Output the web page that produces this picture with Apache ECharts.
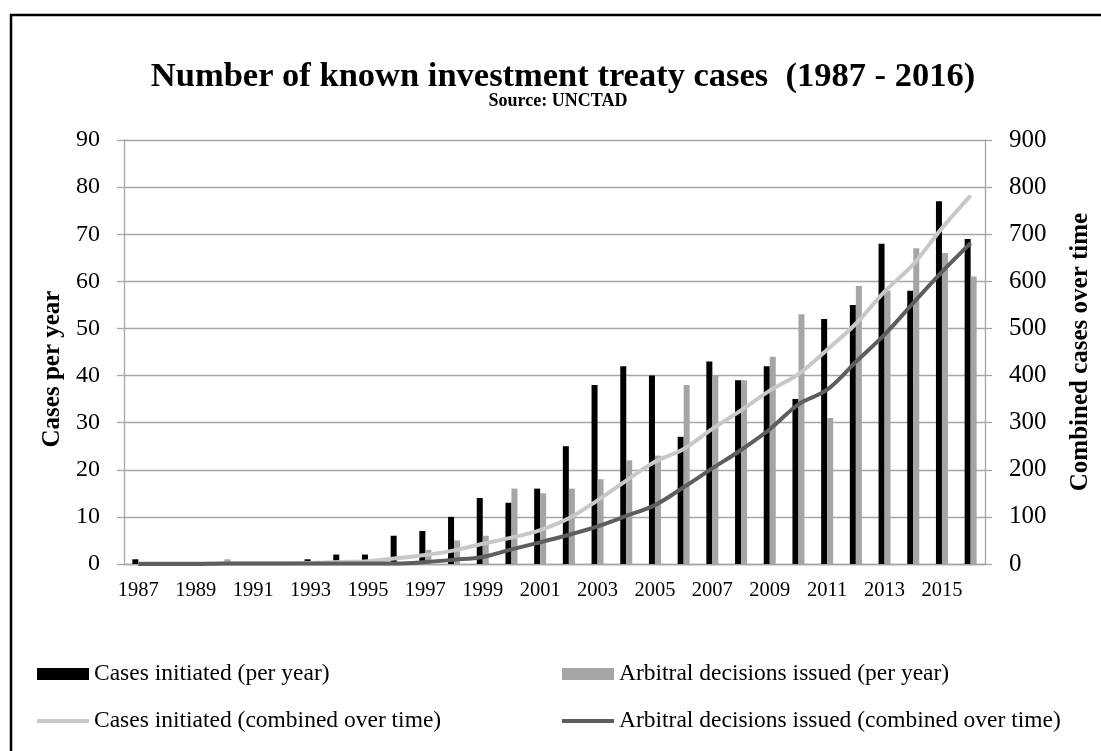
<!DOCTYPE html>
<html>
<head>
<meta charset="utf-8">
<script src="https://cdn.jsdelivr.net/npm/echarts@6/dist/echarts.min.js"></script>
<style>
  html, body { margin: 0; padding: 0; background: #fff; }
  #chart { width: 1101px; height: 751px; }
</style>
</head>
<body>
<div id="chart"></div>
<script>
var years = ['1987', '1988', '1989', '1990', '1991', '1992', '1993', '1994', '1995', '1996',
    '1997', '1998', '1999', '2000', '2001', '2002', '2003', '2004', '2005', '2006',
    '2007', '2008', '2009', '2010', '2011', '2012', '2013', '2014', '2015', '2016'];

// per year (left axis)
var casesPerYear = [1, 0, 0, 0, 0, 0, 1, 2, 2, 6, 7, 10, 14, 13, 16, 25, 38, 42, 40, 27,
    43, 39, 42, 35, 52, 55, 68, 58, 77, 69];
var decisionsPerYear = [0, 0, 0, 1, 0, 0, 0, 0, 0, 0, 3, 5, 6, 16, 15, 16, 18, 22, 23, 38,
    40, 39, 44, 53, 31, 59, 58, 67, 66, 61];

// combined over time (right axis)
var casesTotal = [1, 1, 1, 1, 1, 1, 2, 4, 6, 12, 19, 29, 43, 56, 72, 97, 135, 177, 217, 244,
    287, 326, 368, 403, 455, 510, 578, 636, 713, 782];
var decisionsTotal = [0, 0, 0, 1, 1, 1, 1, 1, 1, 1, 4, 9, 15, 31, 46, 62, 80, 102, 125, 163,
    203, 242, 286, 339, 370, 429, 487, 554, 620, 681];

var serif = '"Liberation Serif", "Times New Roman", serif';
var gridColor = '#a6a6a6';

function legendItem(name, left, top, h) {
    return {
        left: left, top: top,
        padding: 0,
        icon: 'rect',
        itemWidth: 52, itemHeight: h,
        textStyle: { fontFamily: serif, fontSize: 23.5, color: '#000' },
        data: [name]
    };
}

var chart = echarts.init(document.getElementById('chart'));
var option = {
    backgroundColor: '#fff',
    animation: false,
    textStyle: { fontFamily: serif, color: '#000' },
    graphic: [
        {
            type: 'rect',
            shape: { x: 11, y: 15, width: 1200, height: 900 },
            style: { fill: 'none', stroke: '#000', lineWidth: 2.5 },
            silent: true
        },
        {
            type: 'text',
            x: 563, y: 77,
            style: {
                text: 'Number of known investment treaty cases  (1987 - 2016)',
                font: 'bold 34.5px ' + serif,
                fill: '#000', align: 'center', verticalAlign: 'middle'
            }
        },
        {
            type: 'text',
            x: 558, y: 101,
            style: {
                text: 'Source: UNCTAD',
                font: 'bold 18px ' + serif,
                fill: '#000', align: 'center', verticalAlign: 'middle'
            }
        },
        {
            type: 'text',
            x: 53, y: 369,
            rotation: Math.PI / 2,
            style: {
                text: 'Cases per year',
                font: 'bold 25px ' + serif,
                fill: '#000', align: 'center', verticalAlign: 'middle'
            }
        }
    ],
    legend: [
        legendItem('Cases initiated (per year)', 37, 662, 12),
        legendItem('Cases initiated (combined over time)', 37, 709, 4),
        legendItem('Arbitral decisions issued (per year)', 562, 662, 12),
        legendItem('Arbitral decisions issued (combined over time)', 562, 709, 4)
    ],
    grid: { left: 124, right: 113, top: 140, bottom: 187 },
    xAxis: {
        type: 'category',
        data: years,
        axisLine: { lineStyle: { color: gridColor, width: 1.3 } },
        axisTick: { show: false },
        axisLabel: { interval: 1, fontSize: 20.5, color: '#000', fontFamily: serif, margin: 16 }
    },
    yAxis: [
        {
            type: 'value',
            min: 0, max: 90, interval: 10,
            axisLine: { show: true, lineStyle: { color: gridColor, width: 1.3 } },
            axisTick: { show: true, length: 7, lineStyle: { color: gridColor, width: 1.3 } },
            axisLabel: { fontSize: 24, color: '#000', fontFamily: serif, margin: 24 },
            splitLine: { lineStyle: { color: gridColor, width: 1.3 } }
        },
        {
            type: 'value',
            min: 0, max: 900, interval: 100,
            position: 'right',
            name: 'Combined cases over time',
            nameLocation: 'middle',
            nameRotate: 90,
            nameGap: 83,
            nameTextStyle: { fontSize: 25, fontWeight: 'bold', fontFamily: serif, color: '#000' },
            axisLine: { show: true, lineStyle: { color: gridColor, width: 1.3 } },
            axisTick: { show: true, length: 7, lineStyle: { color: gridColor, width: 1.3 } },
            axisLabel: { fontSize: 25, color: '#000', fontFamily: serif, margin: 24 },
            splitLine: { show: false }
        }
    ],
    series: [
        {
            name: 'Cases initiated (per year)',
            type: 'bar',
            barWidth: 6,
            barGap: '0%',
            itemStyle: { color: '#000000' },
            data: casesPerYear
        },
        {
            name: 'Arbitral decisions issued (per year)',
            type: 'bar',
            barWidth: 6,
            barGap: '0%',
            itemStyle: { color: '#a5a5a5' },
            data: decisionsPerYear
        },
        {
            name: 'Cases initiated (combined over time)',
            type: 'line',
            yAxisIndex: 1,
            smooth: 0.35,
            symbol: 'none',
            lineStyle: { color: '#c8c8c8', width: 4 },
            itemStyle: { color: '#c8c8c8' },
            data: casesTotal
        },
        {
            name: 'Arbitral decisions issued (combined over time)',
            type: 'line',
            yAxisIndex: 1,
            smooth: 0.35,
            symbol: 'none',
            lineStyle: { color: '#5e5e5e', width: 4 },
            itemStyle: { color: '#5e5e5e' },
            data: decisionsTotal
        }
    ]
};
chart.setOption(option);
</script>
</body>
</html>
